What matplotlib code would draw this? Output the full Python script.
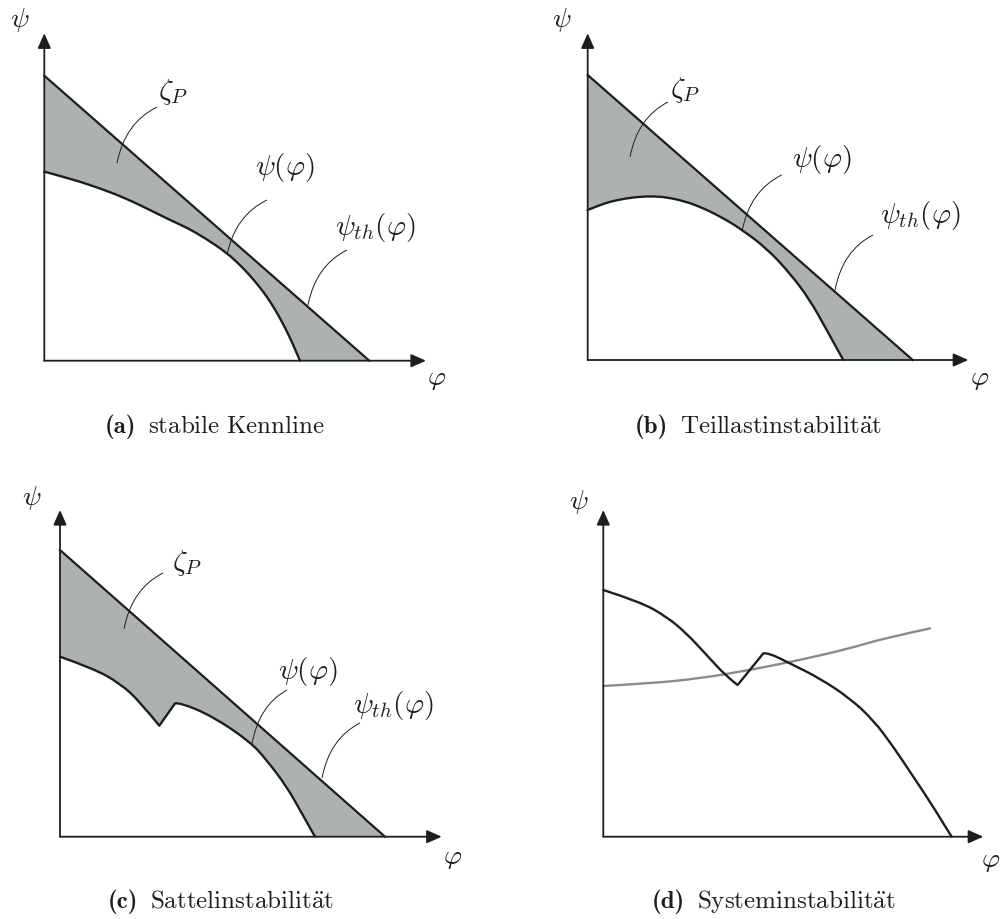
import numpy as np
import matplotlib.pyplot as plt
from matplotlib.path import Path
from matplotlib.patches import PathPatch

plt.rcParams['mathtext.fontset'] = 'cm'

INK = '#1e1e1e'
FILL = '#adb2b1'
GREY = '#8a8a8a'

# theoretical head line (same in a-c), units: 1 = 100 px
th_phi = [0.0, 3.25]
th_psi_a = [2.85, 0.0]
th_psi_b = [2.85, 0.0]
th_psi_c = [2.867, 0.0]

# (a) stable characteristic
psi_phi_a = [0.0, 0.257, 0.557, 0.807, 1.057, 1.257, 1.427, 1.607, 1.827, 1.957,
             2.057, 2.157, 2.227, 2.307, 2.387, 2.477, 2.557]
psi_psi_a = [1.89, 1.822, 1.724, 1.627, 1.507, 1.407, 1.33, 1.227, 1.077, 0.957,
             0.852, 0.732, 0.638, 0.514, 0.37, 0.19, 0.0]

# (b) part-load instability
psi_phi_b = [0.0, 0.123, 0.223, 0.373, 0.523, 0.66, 0.79, 0.96, 1.123, 1.323,
             1.523, 1.79, 2.023, 2.223, 2.39, 2.556]
psi_psi_b = [1.5, 1.55, 1.583, 1.615, 1.633, 1.637, 1.627, 1.59, 1.533, 1.437,
             1.317, 1.117, 0.867, 0.6, 0.3, 0.0]

# (c) saddle instability, corners at the dip and the jump
psi_phi_c = [0.0, 0.333, 0.6, 0.8, 0.993, 1.15, 1.2, 1.533, 1.9, 2.067, 2.267, 2.4, 2.55]
psi_psi_c = [1.8, 1.683, 1.533, 1.35, 1.11, 1.333, 1.343, 1.2, 0.95, 0.767, 0.5, 0.267, 0.0]
corners_c = [4, 5]

# (d) system instability: pump curve and system curve
pump_phi_d = [0.0, 0.367, 0.633, 0.833, 1.033, 1.233, 1.343, 1.6, 1.65, 1.867, 2.167,
              2.467, 2.7, 2.9, 3.1, 3.3, 3.483]
pump_psi_d = [2.467, 2.35, 2.2, 2.033, 1.817, 1.6, 1.517, 1.833, 1.84, 1.733, 1.583,
              1.383, 1.167, 0.9, 0.6, 0.3, 0.0]
corners_d = [6, 7]
sys_phi_d = [0.0, 0.467, 0.967, 1.467, 1.967, 2.467, 2.8, 3.267]
sys_psi_d = [1.507, 1.533, 1.583, 1.667, 1.767, 1.883, 1.983, 2.083]

# label text, label position, leader start, leader end
labels_a = [(r'$\zeta_P$', (1.287, 2.687), (1.127, 2.537), (0.727, 1.977)),
            (r'$\psi(\varphi)$', (2.407, 1.927), (2.227, 1.607), (1.827, 1.057)),
            (r'$\psi_{th}(\varphi)$', (3.307, 1.337), (3.027, 1.107), (2.637, 0.557))]
labels_b = [(r'$\zeta_P$', (0.973, 2.70), (0.803, 2.58), (0.423, 2.03)),
            (r'$\psi(\varphi)$', (2.34, 2.0), (1.94, 1.85), (1.546, 1.30)),
            (r'$\psi_{th}(\varphi)$', (3.323, 1.45), (2.853, 1.25), (2.473, 0.70))]
labels_c = [(r'$\zeta_P$', (1.27, 2.737), (1.03, 2.637), (0.64, 2.077)),
            (r'$\psi(\varphi)$', (2.48, 1.647), (2.27, 1.467), (1.92, 0.927)),
            (r'$\psi_{th}(\varphi)$', (3.33, 1.317), (3.0, 1.137), (2.62, 0.587))]

cap_tags = ['(a)', '(b)', '(c)', '(d)']
cap_texts = [r'$\mathrm{stabile\ Kennline}$',
             r'$\mathrm{Teillastinstabilit\ddot{a}t}$',
             r'$\mathrm{Sattelinstabilit\ddot{a}t}$',
             r'$\mathrm{Systeminstabilit\ddot{a}t}$']

W, H = 1000, 919
fig = plt.figure(figsize=(W / 100, H / 100), dpi=100)


def panel(box, origin):
    # box in pixels (x0, y0, x1, y1), origin of the axes cross in pixels
    x0, y0, x1, y1 = box
    ox, oy = origin
    ax = fig.add_axes([x0 / W, 1 - y1 / H, (x1 - x0) / W, (y1 - y0) / H])
    ax.set_xlim((x0 - ox) / 100, (x1 - ox) / 100)
    ax.set_ylim((oy - y1) / 100, (oy - y0) / 100)
    ax.axis('off')
    return ax


def smooth_path(x, y, corners=()):
    # quadratic B-spline through the sketch points, kept sharp at the corners
    pts = np.column_stack([x, y])
    cuts = [0] + list(corners) + [len(pts) - 1]
    verts, codes = [tuple(pts[0])], [Path.MOVETO]
    for a, b in zip(cuts[:-1], cuts[1:]):
        seg = pts[a:b + 1]
        if len(seg) < 3:
            verts.append(tuple(seg[-1]))
            codes.append(Path.LINETO)
            continue
        for i in range(1, len(seg) - 1):
            end = seg[-1] if i == len(seg) - 2 else (seg[i] + seg[i + 1]) / 2
            verts += [tuple(seg[i]), tuple(end)]
            codes += [Path.CURVE3, Path.CURVE3]
    return Path(verts, codes)


def draw_curve(ax, x, y, corners=(), **kw):
    ax.add_patch(PathPatch(smooth_path(x, y, corners), fc='none', capstyle='round',
                           joinstyle='round', **kw))


def axes_cross(ax, xlen, ylen, psi_pos, phi_pos):
    ap = dict(arrowstyle='-|>,head_length=0.45,head_width=0.2', lw=1.3,
              color=INK, shrinkA=0, shrinkB=0, mutation_scale=20)
    ax.annotate('', xy=(xlen, 0), xytext=(0, 0), arrowprops=ap)
    ax.annotate('', xy=(0, ylen), xytext=(0, 0), arrowprops=ap)
    ax.text(*psi_pos, r'$\psi$', fontsize=20, ha='center', va='center', color=INK)
    ax.text(*phi_pos, r'$\varphi$', fontsize=20, ha='center', va='center', color=INK)


def leader(ax, start, end):
    sx, sy = start
    ex, ey = end
    ctrl = (ex + 0.2 * (sx - ex), sy - 0.28 * (sy - ey))
    p = Path([start, ctrl, end], [Path.MOVETO, Path.CURVE3, Path.CURVE3])
    ax.add_patch(PathPatch(p, fc='none', ec=INK, lw=0.7))


def loss_panel(ax, th_psi, phi, psi, labels, corners=()):
    # shaded loss area between theoretical line and real curve
    curve = smooth_path(phi, psi, corners).interpolated(20).vertices
    ax.fill(np.concatenate([th_phi, curve[::-1, 0]]),
            np.concatenate([th_psi, curve[::-1, 1]]), color=FILL, lw=0, zorder=1)
    ax.plot(th_phi, th_psi, color=INK, lw=1.6, zorder=3)
    draw_curve(ax, phi, psi, corners, ec=INK, lw=1.7, zorder=3)
    for txt, pos, s, e in labels:
        leader(ax, s, e)
        ax.text(*pos, txt, fontsize=21, ha='center', va='center', color=INK)


ax_a = panel((0, 0, 500, 460), (44.3, 360.7))
loss_panel(ax_a, th_psi_a, psi_phi_a, psi_psi_a, labels_a)
axes_cross(ax_a, 3.817, 3.274, (-0.243, 3.407), (3.927, -0.173))

ax_b = panel((500, 0, 1000, 460), (587.7, 360.0))
loss_panel(ax_b, th_psi_b, psi_phi_b, psi_psi_b, labels_b)
axes_cross(ax_b, 3.806, 3.267, (-0.26, 3.40), (3.923, -0.18))

ax_c = panel((0, 460, 500, 919), (60.0, 836.7))
loss_panel(ax_c, th_psi_c, psi_phi_c, psi_psi_c, labels_c, corners_c)
axes_cross(ax_c, 3.817, 3.267, (-0.283, 3.387), (3.93, -0.20))

ax_d = panel((500, 460, 1000, 919), (603.3, 836.7))
draw_curve(ax_d, sys_phi_d, sys_psi_d, ec=GREY, lw=1.7, zorder=2)
draw_curve(ax_d, pump_phi_d, pump_psi_d, corners_d, ec=INK, lw=1.7, zorder=3)
axes_cross(ax_d, 3.80, 3.267, (-0.25, 3.35), (3.87, -0.233))

# sub-captions: bold tag, then the title on the same baseline
renderer = fig.canvas.get_renderer()
for tag, txt, (lx, by) in zip(cap_tags, cap_texts,
                              [(105, 433), (635, 433), (108, 908), (652, 908)]):
    t = fig.text(lx / W, 1 - by / H, tag, fontsize=18, family='cmb10',
                 ha='left', va='baseline', color=INK)
    tw = t.get_window_extent(renderer).width
    fig.text((lx + tw + 12) / W, 1 - by / H, txt, fontsize=18,
             ha='left', va='baseline', color=INK)

fig.savefig('out.png', dpi=100, facecolor='white')
